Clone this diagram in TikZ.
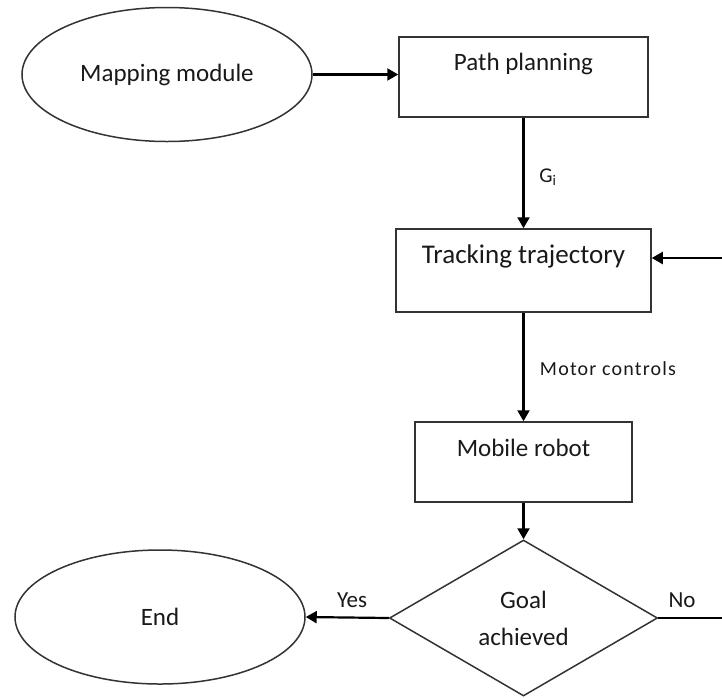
\documentclass[tikz,border=0pt]{standalone}
\usepackage{fontspec}
\setmainfont{Carlito}
\usetikzlibrary{shapes.geometric,arrows.meta}
\begin{document}
\begin{tikzpicture}[x=1pt,y=-1pt,
  outline/.style={draw=black!80, line width=1.5pt, inner sep=0pt},
  boxnode/.style={outline, rectangle},
  oval/.style={outline, ellipse, minimum width=290pt, minimum height=134pt},
  txt/.style={inner sep=0pt, text=black!90, font=\fontsize{25}{30}\selectfont},
  small/.style={inner sep=0pt, text=black!90, font=\fontsize{21}{25}\selectfont},
  flow/.style={line width=2.2pt, draw=black, -{Triangle[length=11pt,width=12pt]}},
  plain/.style={line width=2.2pt, draw=black}]
\useasboundingbox (0,0) rectangle (722,697);

% start / end ovals
\node[oval] (map) at (167,74.5) {};
\node[txt] (map-t) at (map.center) {Mapping module};
\node[oval] (end) at (160,617) {};
\node[txt] (end-t) at (end.center) {End};

% process boxes, captions sit near the top edge
\node[boxnode, minimum width=249pt, minimum height=80pt] (pp) at (523.5,77) {};
\node[txt] (pp-t) at ([yshift=-28pt]pp.north) {Path planning};
\node[boxnode, minimum width=255pt, minimum height=83pt] (tr) at (523.5,270.5) {};
\node[txt, font=\fontsize{27}{32}\selectfont] (tr-t) at ([yshift=-28pt]tr.north) {Tracking trajectory};
\node[boxnode, minimum width=217pt, minimum height=80pt] (mr) at (523.5,462) {};
\node[txt] (mr-t) at ([yshift=-27pt]mr.north) {Mobile robot};

% decision
\node[outline, diamond, minimum width=268pt, minimum height=156pt] (dia) at (523.5,618) {};
\node[txt, align=center, font=\fontsize{25}{37}\selectfont] (dia-t) at (dia.center) {Goal\\achieved};

% loose ends of the feedback loop
\coordinate (fb) at (722,258);
\coordinate (no) at (722,618);

% connectors
\draw[flow] (map.east) -- (map.east -| pp.west);
\draw[flow] (pp.south) -- (tr.north);
\draw[flow] (tr.south) -- (mr.north);
\draw[flow] (mr.south) -- (dia.north);
\draw[flow] (dia.west) -- (end.east);
\draw[flow] (fb) -- (fb -| tr.east);
\draw[plain] (dia.east) -- (no);

% connector labels
\node[txt, font=\fontsize{21}{25}\selectfont] (gi) at (548,177) {G\textsubscript{i}};
\node[small, font=\addfontfeature{LetterSpace=6}\fontsize{20}{24}\selectfont] (mc) at (608,369) {Motor controls};
\node[txt, font=\fontsize{23}{28}\selectfont] (yes) at (352,600) {Yes};
\node[txt, font=\fontsize{23}{28}\selectfont] (nolab) at (682,600) {No};
\end{tikzpicture}
\end{document}
